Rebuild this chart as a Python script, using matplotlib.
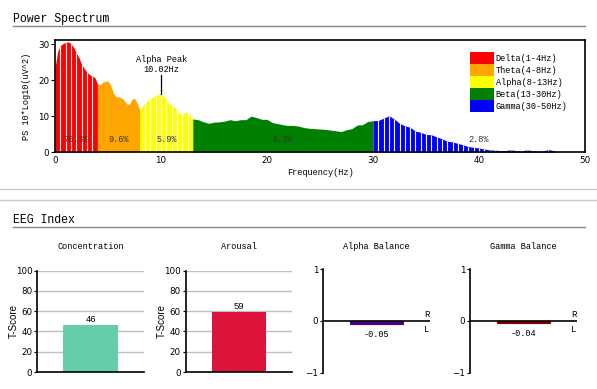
import numpy as np
import matplotlib
matplotlib.use('Agg')
import matplotlib.pyplot as plt
from matplotlib.patches import Patch
from matplotlib.lines import Line2D

MONO = 'Liberation Mono'
SANS = 'Liberation Sans'

# Power spectrum (dB), 0.25 Hz grid up to 13 Hz, 0.5 Hz after
freqs = np.concatenate([np.arange(0, 13.01, 0.25), np.arange(13.5, 47.51, 0.5)])
power = [
    23.4, 28.0, 29.6, 30.2, 30.5, 30.7, 30.2, 29.2, 27.6, 26.4, 24.5, 23.3, 22.3,
    21.6, 21.1, 20.8, 19.0, 18.8, 19.4, 19.7, 19.8, 18.6, 16.5, 15.3, 15.4, 15.1,
    14.5, 13.4, 13.3, 14.6, 15.0, 13.6, 11.8, 12.8, 13.6, 14.2, 14.9, 15.3, 15.7,
    16.0, 16.1, 15.6, 14.5, 13.7, 13.0, 12.6, 11.8, 10.6, 10.5, 11.0, 11.0, 10.4,
    9.2,
    9.0, 8.4, 8.0, 8.3, 8.4, 8.6, 9.0, 8.7, 9.0, 9.0,
    10.0, 9.6, 9.1, 9.1, 8.2, 7.9, 7.6, 7.4, 7.4, 7.2,
    6.8, 6.6, 6.5, 6.4, 6.3, 6.1, 5.9, 5.7, 6.2, 6.5,
    7.5, 7.6, 8.5, 8.7, 8.8, 9.4, 10.1, 9.2, 8.0, 7.3,
    6.9, 5.8, 5.5, 4.9, 4.8, 4.2, 3.7, 3.0, 2.8, 2.4,
    2.0, 1.5, 1.3, 1.1, 0.8, 0.6, 0.5, 0.4, 0.4, 0.6,
    0.4, 0.2, 0.6, 0.4, 0.3, 0.2, 0.7, 0.4, 0.0,
]
power = np.array(power)

band_names = ['Delta(1-4Hz)', 'Theta(4-8Hz)', 'Alpha(8-13Hz)', 'Beta(13-30Hz)', 'Gamma(30-50Hz)']
band_lo = [0, 4, 8, 13, 30]
band_hi = [4, 8, 13, 30, 50]
band_colors = ['#ff0000', '#ffa500', '#ffff00', '#008000', '#0000ff']
band_pct = ['76.3%', '9.6%', '5.9%', '5.3%', '2.8%']
band_gaps = [True, False, True, False, True]
alpha_peak = 10.02

# EEG index
tscore_names = ['Concentration', 'Arousal']
tscore_vals = [46, 59]
tscore_colors = ['#66cdaa', '#dc143c']
balance_names = ['Alpha Balance', 'Gamma Balance']
balance_vals = [-0.05, -0.04]
balance_colors = ['#4b0082', '#800000']

W, H = 597, 389
fig = plt.figure(figsize=(W / 100, H / 100), dpi=100)


def fx(px):
    return px / W


def fy(py):
    return 1 - py / H


# section headers and rules
fig.text(fx(13), fy(19), 'Power Spectrum', family=MONO, fontsize=8.3, va='center')
fig.add_artist(Line2D([fx(13), fx(585)], [fy(26), fy(26)], color='#888888', lw=1))
for py in (188.5, 199.5):
    fig.add_artist(Line2D([0, 1], [fy(py), fy(py)], color='#c8c8c8', lw=1))
fig.text(fx(13), fy(220), 'EEG Index', family=MONO, fontsize=8.3, va='center')
fig.add_artist(Line2D([fx(13), fx(585)], [fy(226.7), fy(226.7)], color='#888888', lw=1))

# ---- power spectrum ----
ax = fig.add_axes([fx(55), fy(152), fx(530), 112 / H])
for lo, hi, c, gap in zip(band_lo, band_hi, band_colors, band_gaps):
    m = (freqs >= lo) & (freqs <= hi)
    ax.fill_between(freqs[m], power[m], color=c, lw=0)
    if gap:
        sel = freqs[m][1:-1]
        sel = sel[(sel * 2) % 1 == 0] if lo < 30 else sel
        ax.vlines(sel, 0, np.interp(sel, freqs, power), color='white', lw=0.8)
for lo, hi, pct in zip(band_lo, band_hi, band_pct):
    ax.text((lo + hi) / 2, 3.6, pct, family=MONO, fontsize=6.2, ha='center', va='center',
            color='#333333')

pk = np.interp(alpha_peak, freqs, power)
ax.plot([alpha_peak, alpha_peak], [pk, pk + 5.4], color='black', lw=0.9)
ax.text(alpha_peak, pk + 5.8, 'Alpha Peak\n%.2fHz' % alpha_peak, family=MONO, fontsize=6.2,
        ha='center', va='bottom', linespacing=1.1)

ax.set_xlim(0, 50)
ax.set_ylim(0, 31.2)
ax.set_xticks([0, 10, 20, 30, 40, 50])
ax.set_yticks([0, 10, 20, 30])
ax.tick_params(axis='x', length=0, pad=3, labelsize=6.3)
ax.tick_params(axis='y', length=3, width=0.8, pad=1, labelsize=6.3)
for s in ax.spines.values():
    s.set_linewidth(1.2)
ax.text(0.5, -0.18, 'Frequency(Hz)', transform=ax.transAxes, family=MONO, fontsize=6.2,
        ha='center', va='center')
fig.text(fx(27), fy(96.5), 'PS 10*Log10(uV^2)', family=MONO, fontsize=6.2, rotation=90,
         ha='center', va='center')

handles = [Patch(facecolor=c, edgecolor='none') for c in band_colors]
leg = ax.legend(handles, band_names, loc='upper left', bbox_to_anchor=(0.783, 0.89),
                frameon=False, borderpad=0, borderaxespad=0, labelspacing=0,
                handlelength=2.75, handleheight=1.75, handletextpad=0.25,
                prop={'family': MONO, 'size': 6.2})

# ---- T-score bars ----
for left, name, val, c in zip([37.3, 185.7], tscore_names, tscore_vals, tscore_colors):
    a = fig.add_axes([fx(left), fy(372), fx(106.7), 101.3 / H])
    a.set_axisbelow(True)
    a.grid(axis='y', color='#c0c0c0', lw=1)
    a.bar(0, val, width=0.51, color=c)
    a.text(0, val + 1.5, str(val), fontsize=6.8, family=SANS, ha='center', va='bottom')
    a.set_xlim(-0.5, 0.5)
    a.set_ylim(0, 100)
    a.set_xticks([])
    a.set_yticks(range(0, 101, 20))
    a.tick_params(axis='y', length=2.5, width=0.8, pad=1, labelsize=6.3)
    for s in ['top', 'right']:
        a.spines[s].set_visible(False)
    for s in ['left', 'bottom']:
        a.spines[s].set_linewidth(1.2)
    a.set_ylabel('T-Score', family=SANS, fontsize=7, labelpad=-2)
    a.text(0.5, 1 + 24 / 101.3, name, transform=a.transAxes, family=MONO, fontsize=6.2,
           ha='center', va='center')

# ---- balance bars ----
for left, name, val, c in zip([323.3, 470.3], balance_names, balance_vals, balance_colors):
    a = fig.add_axes([fx(left), fy(372.7), fx(106.7), 103.4 / H])
    a.bar(0, val, width=0.5, color=c, edgecolor=c, lw=0.8)
    a.axhline(0, color='black', lw=1.2)
    a.text(0, val - 0.12, '%.2f' % val, family=MONO, fontsize=6.2, ha='center', va='top')
    a.text(0.97, 0.12, 'R', transform=a.get_yaxis_transform(), family=MONO, fontsize=6.5,
           ha='center', va='center')
    a.text(0.97, -0.155, 'L', transform=a.get_yaxis_transform(), family=MONO, fontsize=6.5,
           ha='center', va='center')
    a.set_xlim(-0.5, 0.5)
    a.set_ylim(-1, 1)
    a.set_xticks([])
    a.set_yticks([-1, 0, 1])
    a.tick_params(axis='y', length=2.5, width=0.8, pad=1, labelsize=6.3)
    for s in ['top', 'right', 'bottom']:
        a.spines[s].set_visible(False)
    a.spines['left'].set_linewidth(1.2)
    a.text(0.5, 1 + 22.6 / 103.4, name, transform=a.transAxes, family=MONO, fontsize=6.2,
           ha='center', va='center')

fig.savefig('out.png', dpi=100)
